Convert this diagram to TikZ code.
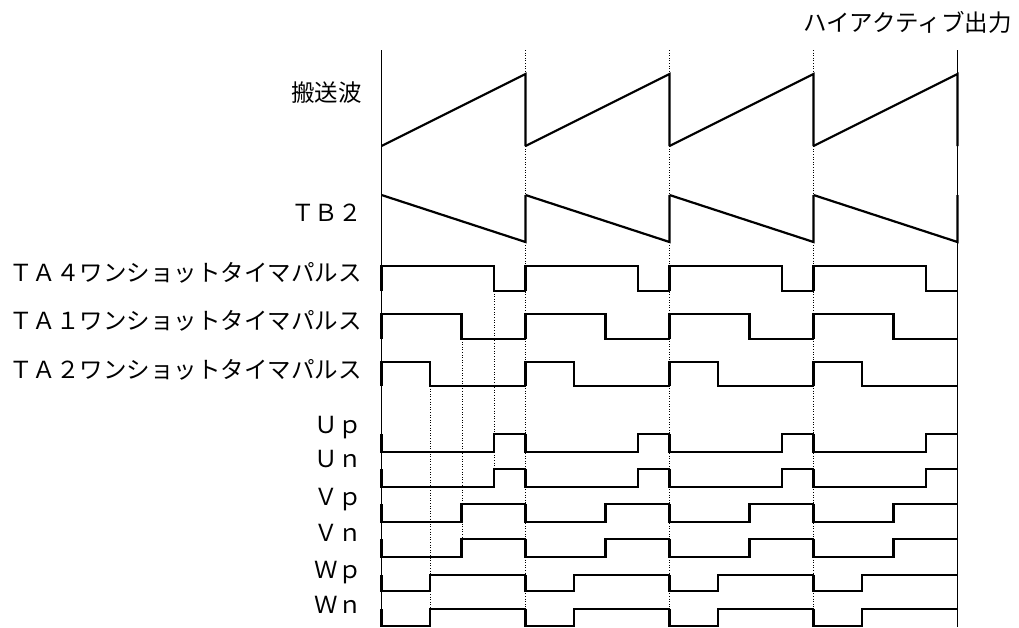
\documentclass[tikz,border=0pt]{standalone}
\usepackage{fontspec}
\newfontfamily\jpfont{Noto Sans CJK JP}

\begin{document}
\begin{tikzpicture}[
		x=1pt, y=-1pt,
		wave/.style={line width=2.2pt, line join=miter},
		axis/.style={line width=1.5pt},
		guide/.style={line width=0.9pt, dash pattern=on 1pt off 1.6pt},
		lbl/.style={anchor=east, inner sep=0pt, font=\jpfont\fontsize{23.5}{28}\selectfont},
	]
		\useasboundingbox (0,0) rectangle (1019,627);

		% labels
		\node [lbl] (carrier) at (362,93) {搬送波};
		\node [lbl] (tb2) at (362,213) {ＴＢ２};
		\node [lbl] (ta4) at (362,273) {ＴＡ４ワンショットタイマパルス};
		\node [lbl] (ta1) at (362,321) {ＴＡ１ワンショットタイマパルス};
		\node [lbl] (ta2) at (362,370) {ＴＡ２ワンショットタイマパルス};
		\node [lbl] (up) at (362,428) {Ｕｐ};
		\node [lbl] (un) at (362,459) {Ｕｎ};
		\node [lbl] (vp) at (362,500) {Ｖｐ};
		\node [lbl] (vn) at (362,533) {Ｖｎ};
		\node [lbl] (wp) at (362,573) {Ｗｐ};
		\node [lbl] (wn) at (362,605) {Ｗｎ};
		\node [lbl] (mode) at (1012,22) {ハイアクティブ出力};

		% timing guides
		\foreach \x/\top/\bot in {430/386/609, 462/339/539, 494/291/469}
			\draw[guide] (\x,\top) -- (\x,\bot);
		\foreach \x in {525.5,669.5,813.5}
			\draw[guide] (\x,50) -- (\x,626);

		% axes
		\coordinate (lt) at (381.5,50);
		\coordinate (lb) at (381.5,627);
		\coordinate (rt) at (957.5,50);
		\coordinate (rb) at (957.5,627);
		\draw[axis] (lt) -- (lb);
		\draw[axis] (rt) -- (rb);

		% waveforms, one period at a time
		\foreach \s in {381.5,525.5,669.5,813.5} {
			\draw[wave] (\s,146) -- (\s+144,74) -- (\s+144,146);
			\draw[wave] (\s,195) -- (\s+144,242) -- (\s+144,195);
			\foreach \hi/\lo/\d in {266/291/112.5, 314/339/80, 362/386/48.5}
				\draw[wave] (\s,\lo) -- (\s,\hi) -- (\s+\d,\hi) -- (\s+\d,\lo) -- (\s+144,\lo);
			\foreach \hi/\lo/\d in {434/452/112.5, 469/487/112.5, 504/522/80, 539/557/80, 575/591/48.5, 609/626/48.5}
				\draw[wave] (\s,\hi) -- (\s,\lo) -- (\s+\d,\lo) -- (\s+\d,\hi) -- (\s+144,\hi);
		}
	\end{tikzpicture}
\end{document}
